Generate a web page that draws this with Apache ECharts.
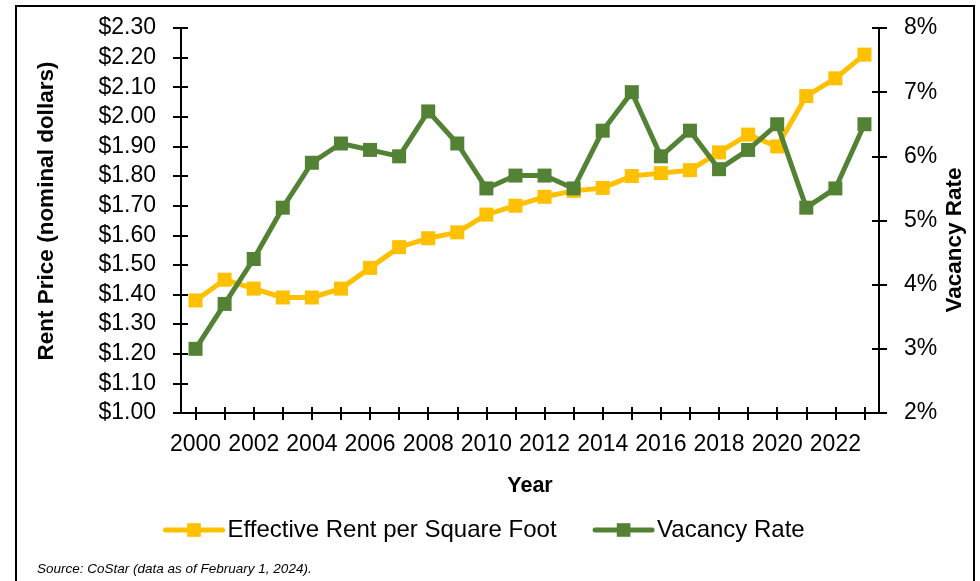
<!DOCTYPE html>
<html>
<head>
<meta charset="utf-8">
<script src="https://cdn.jsdelivr.net/npm/echarts@6/dist/echarts.min.js"></script>
<style>html,body{margin:0;padding:0;background:#fff}#c{width:980px;height:581px}</style>
</head>
<body>
<div id="c"></div>
<script>
const years = ['2000','2001','2002','2003','2004','2005','2006','2007','2008','2009','2010','2011','2012','2013','2014','2015','2016','2017','2018','2019','2020','2021','2022','2023'];
const rent = [1.38,1.45,1.42,1.39,1.39,1.42,1.49,1.56,1.59,1.61,1.67,1.70,1.73,1.75,1.76,1.80,1.81,1.82,1.88,1.94,1.90,2.07,2.13,2.21];
const vacancy = [3.0,3.7,4.4,5.2,5.9,6.2,6.1,6.0,6.7,6.2,5.5,5.7,5.7,5.5,6.4,7.0,6.0,6.4,5.8,6.1,6.5,5.2,5.5,6.5];
const rentName = 'Effective Rent per Square Foot';
const vacName = 'Vacancy Rate';
const leftTitle = 'Rent Price (nominal dollars)';
const rightTitle = 'Vacancy Rate';
const xTitle = 'Year';
const source = 'Source: CoStar (data as of February 1, 2024).';

const FONT = '"Liberation Sans", Arial, sans-serif';
const FS = 23;
const axisLine = {show:true, lineStyle:{color:'#000', width:2}};
const chart = echarts.init(document.getElementById('c'));
const xBase = {
  type:'category', data:years, boundaryGap:true, position:'bottom',
  axisLine: axisLine, splitLine:{show:false}
};
const yLeftBase = {type:'value', position:'left', min:1.0, max:2.3, interval:0.1, axisLine:axisLine, splitLine:{show:false}};
const yRightBase = {type:'value', position:'right', min:2, max:8, interval:1, axisLine:axisLine, splitLine:{show:false}};
chart.setOption({
  animation:false,
  textStyle:{fontFamily:FONT},
  grid:{left:181, right:101, top:28, bottom:168, containLabel:false},
  xAxis:[
    Object.assign({}, xBase, {
      name:xTitle, nameLocation:'middle', nameGap:62,
      nameTextStyle:{fontFamily:FONT, fontSize:21.5, fontWeight:'bold', color:'#000'},
      axisTick:{show:true, alignWithLabel:true, interval:0, length:7, lineStyle:{color:'#000', width:2}},
      axisLabel:{interval:1, margin:20, fontFamily:FONT, fontSize:FS, color:'#000'}
    }),
    Object.assign({}, xBase, {
      axisTick:{show:true, inside:true, alignWithLabel:true, interval:0, length:6, lineStyle:{color:'#000', width:2}},
      axisLabel:{show:false}
    })
  ],
  yAxis:[
    Object.assign({}, yLeftBase, {
      axisTick:{show:true, length:8, lineStyle:{color:'#000', width:2}},
      axisLabel:{margin:25, fontFamily:FONT, fontSize:FS, color:'#000', formatter:v=>'$'+v.toFixed(2)}
    }),
    Object.assign({}, yRightBase, {
      axisTick:{show:true, length:8, lineStyle:{color:'#000', width:2}},
      axisLabel:{margin:25, fontFamily:FONT, fontSize:FS, color:'#000', formatter:v=>v+'%'}
    }),
    Object.assign({}, yLeftBase, {
      axisTick:{show:true, inside:true, length:7, lineStyle:{color:'#000', width:2}},
      axisLabel:{show:false}
    }),
    Object.assign({}, yRightBase, {
      axisTick:{show:true, inside:true, length:7, lineStyle:{color:'#000', width:2}},
      axisLabel:{show:false}
    })
  ],
  legend:{
    left:163, top:518, padding:0, itemGap:36, itemWidth:57, itemHeight:17,
    lineStyle:{width:5, cap:'round'},
    textStyle:{fontFamily:FONT, fontSize:24, color:'#000'},
    data:[rentName, vacName]
  },
  series:[
    {name:rentName, type:'line', xAxisIndex:0, yAxisIndex:0, data:rent,
     symbol:'rect', symbolSize:14, itemStyle:{color:'#FFC000'}, lineStyle:{color:'#FFC000', width:5}, z:3},
    {name:vacName, type:'line', xAxisIndex:0, yAxisIndex:1, data:vacancy,
     symbol:'rect', symbolSize:14, itemStyle:{color:'#548235'}, lineStyle:{color:'#548235', width:5}, z:4}
  ],
  graphic:[
    {type:'rect', shape:{x:16, y:6, width:958, height:620}, style:{fill:'none', stroke:'#000', lineWidth:2}, silent:true},
    {type:'text', x:47, y:211, rotation:Math.PI/2,
     style:{text:leftTitle, font:'bold 22.5px '+FONT, fill:'#000', textAlign:'center', textVerticalAlign:'middle'}},
    {type:'text', x:955, y:240, rotation:Math.PI/2,
     style:{text:rightTitle, font:'bold 22.5px '+FONT, fill:'#000', textAlign:'center', textVerticalAlign:'middle'}},
    {type:'text', x:37, y:569,
     style:{text:source, font:'italic 13.5px '+FONT, fill:'#000', textAlign:'left', textVerticalAlign:'middle'}}
  ]
});
</script>
</body>
</html>
